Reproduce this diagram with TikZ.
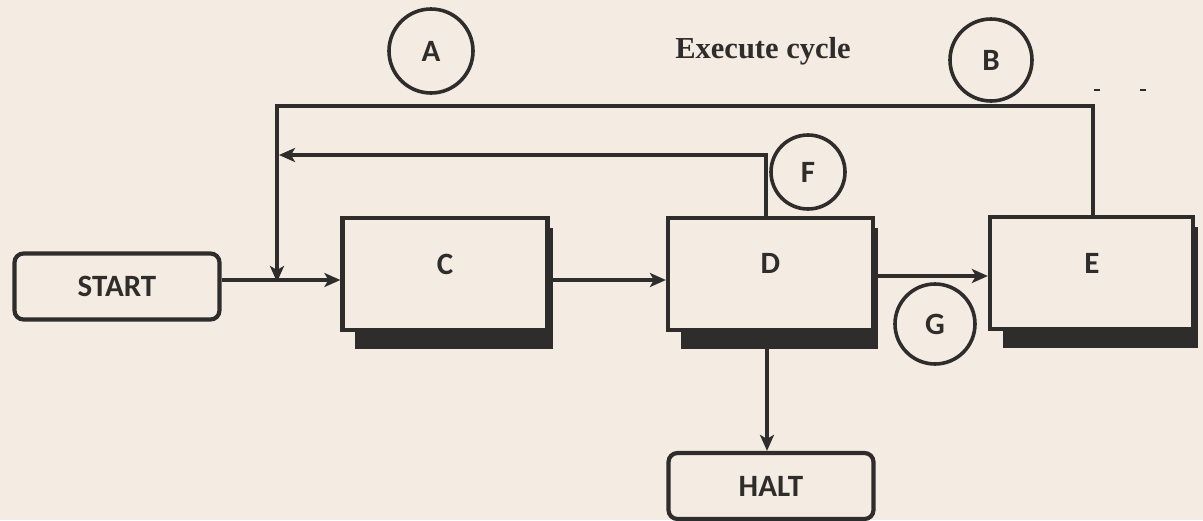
\documentclass[tikz,border=0pt]{standalone}
\usepackage{fontspec}
\setmainfont{Carlito}
\newfontfamily\headfont{Liberation Serif}
\usetikzlibrary{arrows.meta,calc}
\definecolor{ink}{HTML}{2F2D2C}
\definecolor{paper}{HTML}{F4ECE3}
\tikzset{
  base/.style={draw=ink, line width=4.2pt, inner sep=0pt, text=ink, font=\fontsize{31}{33}\selectfont\bfseries},
  term/.style={base, rectangle, rounded corners=9pt, minimum width=205pt, minimum height=66pt},
  blk/.style={base, rectangle, minimum width=205pt, minimum height=112pt},
  circ/.style={base, circle, line width=3.6pt, minimum size=#1},
  lbl/.style={text=ink, font=\fontsize{31}{33}\selectfont\bfseries, inner sep=0pt},
  conn/.style={draw=ink, line width=3.8pt},
  arr/.style={conn, -{Stealth[length=16pt,width=14pt,inset=4pt]}},
}
\begin{document}
\begin{tikzpicture}[x=1pt,y=-1pt]
\fill[paper] (0,0) rectangle (1203,520);
\useasboundingbox (0,0) rectangle (1203,520);

% terminals
\node[term] (start) at (117,286.5) {START};
\node[term] (halt) at (771,486) {HALT};

% blocks
\node[blk] (c) at (445,274) {};
\node[blk] (d) at (770.5,274) {};
\node[blk, minimum width=203pt] (e) at (1091.5,273) {};
\node[lbl] (cl) at (445,264) {C};
\node[lbl] (dl) at (770.5,263) {D};
\node[lbl] (el) at (1092,263) {E};

% shadows
\foreach \b in {c,d,e}{
  \fill[ink] ([xshift=15pt,yshift=1pt]\b.south west) rectangle ([xshift=3pt,yshift=-17pt]\b.south east);
  \fill[ink] ([yshift=-12pt,xshift=-1pt]\b.north east) rectangle ([xshift=3pt]\b.south east);
}

% circles
\node[circ=84pt] (a) at (431,51) {A};
\node[circ=82pt] (b) at (991,60) {B};
\node[circ=74pt] (f) at (808,172) {F};
\node[circ=80pt] (g) at (935,324) {G};

% title
\node[text=ink, inner sep=0pt, font=\headfont\fontsize{30.5}{32}\selectfont\bfseries] (title) at (763,51) {Execute cycle};

% junction points
\coordinate (m2) at (277,106);
\coordinate (m1) at (277,155);
\coordinate (mj) at (277,280);

% connectors
\draw[arr] ([yshift=6.5pt]start.east) -- ([yshift=6.5pt]start.east -| c.west);
\draw[arr] ([yshift=-6pt]c.east) -- ([yshift=-6pt]c.east -| d.west);
\draw[arr] ([yshift=-2pt]d.east) -- ([yshift=-2pt]d.east -| e.west);
\draw[arr] ([xshift=-3.5pt,yshift=-16pt]d.south) -- ([xshift=-3.5pt]d.south |- halt.north);
\draw[arr] ([xshift=-4.5pt]d.north) |- ([xshift=2pt]m1);
\draw[arr] ([xshift=1.5pt]e.north) |- (m2) -- ([yshift=-2pt]mj);

% small marks near B
\coordinate (k1) at (1097,90);
\coordinate (k2) at (1143,90);
\draw[ink, line width=2.5pt] ([xshift=-3pt]k1) -- ([xshift=3pt]k1);
\draw[ink, line width=2.5pt] ([xshift=-3pt]k2) -- ([xshift=3pt]k2);
\end{tikzpicture}
\end{document}
